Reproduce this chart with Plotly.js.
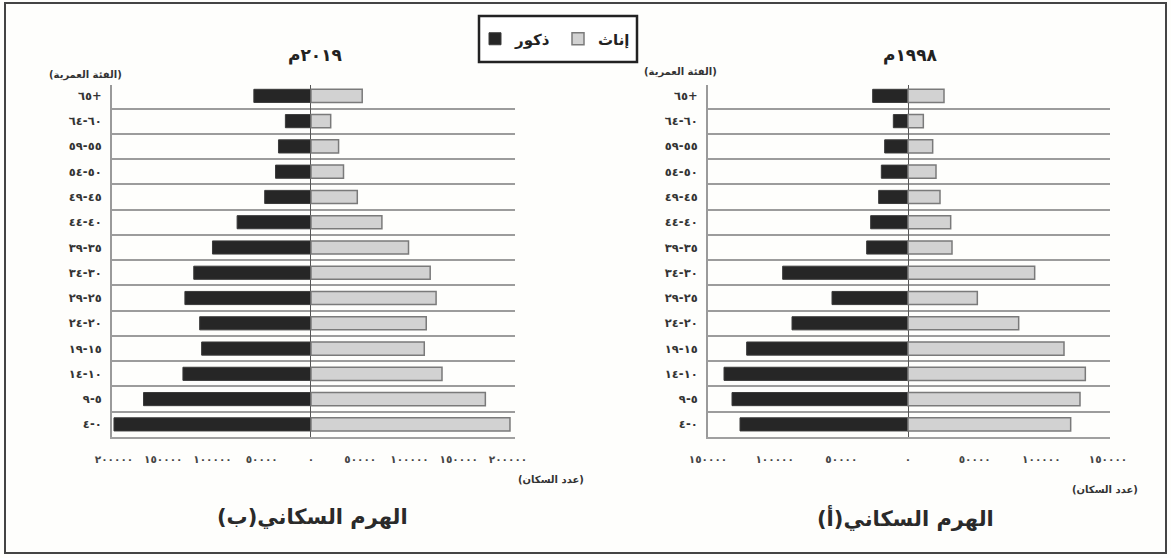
<!DOCTYPE html>
<html>
<head>
<meta charset="utf-8">
<script src="https://cdn.plot.ly/plotly-3.0.1.min.js"></script>
<style>
  html, body { margin: 0; padding: 0; background: #fefefc; }
  #chart { width: 1171px; height: 558px; }
</style>
</head>
<body>
<div id="chart"></div>
<script>
// ---- Data ----
const ageGroups = ["٠-٤","٥-٩","١٠-١٤","١٥-١٩","٢٠-٢٤","٢٥-٢٩","٣٠-٣٤","٣٥-٣٩","٤٠-٤٤","٤٥-٤٩","٥٠-٥٤","٥٥-٥٩","٦٠-٦٤","\u202A٦٥+\u202C"];

const male2019   = [200000,170000,130000,111000,113000,128000,119000,100000,75000,47000,36000,33000,26000,58000];
const female2019 = [202000,177000,133000,115000,117000,127000,121000,99000,72000,47000,33000,28000,20000,52000];

const male1998   = [126000,132000,138000,121000,87000,57000,94000,31000,28000,22000,20000,17500,11000,26500];
const female1998 = [122000,129000,133000,117000,83000,52000,95000,33000,32000,24000,21000,18500,11500,27000];

const tickVals2019 = [-200000,-150000,-100000,-50000,0,50000,100000,150000,200000];
const tickText2019 = ["٢٠٠٠٠٠","١٥٠٠٠٠","١٠٠٠٠٠","٥٠٠٠٠","٠","٥٠٠٠٠","١٠٠٠٠٠","١٥٠٠٠٠","٢٠٠٠٠٠"];
const tickVals1998 = [-150000,-100000,-50000,0,50000,100000,150000];
const tickText1998 = ["١٥٠٠٠٠","١٠٠٠٠٠","٥٠٠٠٠","٠","٥٠٠٠٠","١٠٠٠٠٠","١٥٠٠٠٠"];

const labelMale = "ذكور";
const labelFemale = "إناث";
const title2019 = "٢٠١٩م";
const title1998 = "١٩٩٨م";
const caption2019 = "الهرم السكاني(ب)";
const caption1998 = "الهرم السكاني(أ)";
const ageAxisLabel = "(الفئة العمرية)";
const popAxisLabel = "(عدد السكان)";

// ---- Helpers ----
const W = 1171, H = 558;
const px = v => v / W;
const py = v => 1 - v / H;
const rtl = s => "\u200F" + s + "\u200F";
const FONT = "DejaVu Sans, sans-serif";

const maleStyle = { color: "#262626", line: { color: "#3a3a3a", width: 1 } };
const femaleStyle = { color: "#d2d2d2", line: { color: "#7a7a7a", width: 1.5 } };

const neg = arr => arr.map(v => -v);

const traces = [
  { type: "bar", orientation: "h", y: ageGroups, x: neg(male2019), name: labelMale,
    marker: maleStyle, xaxis: "x", yaxis: "y", showlegend: true, hoverinfo: "skip" },
  { type: "bar", orientation: "h", y: ageGroups, x: female2019, name: labelFemale,
    marker: femaleStyle, xaxis: "x", yaxis: "y", showlegend: true, hoverinfo: "skip" },
  { type: "bar", orientation: "h", y: ageGroups, x: neg(male1998), name: labelMale,
    marker: maleStyle, xaxis: "x2", yaxis: "y2", showlegend: false, hoverinfo: "skip" },
  { type: "bar", orientation: "h", y: ageGroups, x: female1998, name: labelFemale,
    marker: femaleStyle, xaxis: "x2", yaxis: "y2", showlegend: false, hoverinfo: "skip" }
];

const yCommon = {
  type: "category",
  categoryorder: "array",
  categoryarray: ageGroups,
  range: [-0.5, 13.45],
  tickson: "boundaries",
  ticks: "",
  showgrid: true,
  gridcolor: "#9c9c9c",
  gridwidth: 2,
  showline: true,
  linecolor: "#9a9a9a",
  linewidth: 2,
  zeroline: false,
  ticklabelstandoff: 6,
  tickfont: { family: FONT, size: 11.5, color: "#333", weight: "bold" },
  fixedrange: true
};

const xCommon = {
  showgrid: false,
  zeroline: true,
  zerolinecolor: "#555",
  zerolinewidth: 1,
  showline: true,
  linecolor: "#a0a0a0",
  linewidth: 2,
  ticks: "",
  tickmode: "array",
  ticklabelstandoff: 11,
  tickfont: { family: FONT, size: 10.5, color: "#444", weight: "bold" },
  fixedrange: true
};

const yTop = 84.5, yBot = 437;

function note(text, x, y, size, color) {
  return { text: rtl(text), x: px(x), y: py(y), xref: "paper", yref: "paper",
    xanchor: "center", yanchor: "middle", showarrow: false,
    font: { family: FONT, size: size, color: color || "#222", weight: "bold" } };
}

const layout = {
  width: W, height: H,
  margin: { l: 0, r: 0, t: 0, b: 0 },
  paper_bgcolor: "#fefefc",
  plot_bgcolor: "rgba(0,0,0,0)",
  barmode: "relative",
  bargap: 0.48,
  font: { family: FONT, color: "#222" },
  xaxis: Object.assign({}, xCommon, {
    domain: [px(112), px(515)], anchor: "y",
    range: [-202000, 207100],
    tickvals: tickVals2019, ticktext: tickText2019
  }),
  yaxis: Object.assign({}, yCommon, {
    domain: [py(yBot), py(yTop)], anchor: "x"
  }),
  xaxis2: Object.assign({}, xCommon, {
    domain: [px(708), px(1110)], anchor: "y2",
    range: [-150000, 151500],
    tickvals: tickVals1998, ticktext: tickText1998
  }),
  yaxis2: Object.assign({}, yCommon, {
    domain: [py(yBot), py(yTop)], anchor: "x2"
  }),
  legend: {
    orientation: "h",
    x: px(558), y: py(39), xanchor: "center", yanchor: "middle",
    bgcolor: "rgba(0,0,0,0)",
    borderwidth: 0,
    font: { family: FONT, size: 15, color: "#222", weight: "bold" },
    itemwidth: 30,
    entrywidth: 38,
    valign: "middle"
  },
  annotations: [
    note(title2019, 315, 55, 17),
    note(title1998, 910, 55, 17),
    note(ageAxisLabel, 85, 75, 10, "#333"),
    note(ageAxisLabel, 680, 72, 10, "#333"),
    note(popAxisLabel, 551, 479, 10, "#333"),
    note(popAxisLabel, 1105, 489, 10, "#333"),
    note(caption2019, 312, 517, 21, "#2a2a2a"),
    note(caption1998, 905, 517, 21, "#2a2a2a")
  ],
  shapes: [
    { type: "rect", xref: "paper", yref: "paper",
      x0: px(5), x1: px(1166), y0: py(553), y1: py(3),
      line: { color: "#444", width: 2 }, fillcolor: "rgba(0,0,0,0)", layer: "below" },
    { type: "rect", xref: "paper", yref: "paper",
      x0: px(479), x1: px(637), y0: py(62), y1: py(16),
      line: { color: "#222", width: 2.5 }, fillcolor: "#ffffff", layer: "below" }
  ]
};

Plotly.newPlot("chart", traces, layout, { displayModeBar: false, staticPlot: true });
</script>
</body>
</html>
